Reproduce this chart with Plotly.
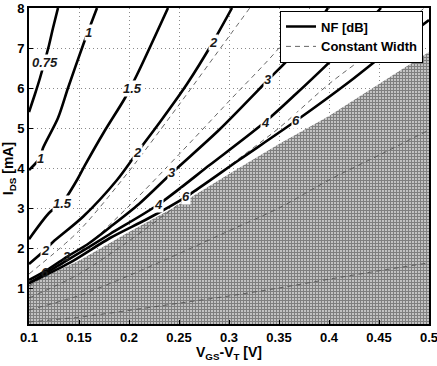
import plotly.graph_objects as go

# ---------------- axes ----------------
x_ticks = [0.1, 0.15, 0.2, 0.25, 0.3, 0.35, 0.4, 0.45, 0.5]
x_tick_labels = ["0.1", "0.15", "0.2", "0.25", "0.3", "0.35", "0.4", "0.45", "0.5"]
y_ticks = [1, 2, 3, 4, 5, 6, 7, 8]
y_tick_labels = ["1", "2", "3", "4", "5", "6", "7", "8"]

# ---------------- NF contours (V_GS-V_T [V], I_DS [mA]) ----------------
nf_075_v = [0.100, 0.106, 0.111, 0.120, 0.124, 0.129]
nf_075_i = [5.40, 5.85, 6.25, 7.07, 7.50, 8.00]
nf_1_v = [0.100, 0.111, 0.114, 0.129, 0.139, 0.154, 0.168]
nf_1_i = [3.95, 4.25, 4.50, 5.25, 6.00, 7.07, 8.00]
nf_15_v = [0.100, 0.121, 0.133, 0.148, 0.156, 0.175, 0.196, 0.208, 0.239]
nf_15_i = [2.22, 2.90, 3.12, 3.70, 4.07, 4.90, 5.75, 6.33, 8.00]
nf_2_v = [0.100, 0.116, 0.124, 0.154, 0.188, 0.208, 0.231, 0.258, 0.284, 0.303]
nf_2_i = [1.60, 1.95, 2.15, 2.78, 3.70, 4.38, 5.15, 6.10, 7.15, 8.00]
nf_3_v = [0.100, 0.120, 0.138, 0.160, 0.181, 0.210, 0.243, 0.290, 0.339, 0.371, 0.399]
nf_3_i = [1.20, 1.48, 1.78, 2.12, 2.52, 3.10, 3.88, 4.95, 6.20, 7.03, 8.00]
nf_4_v = [0.100, 0.140, 0.181, 0.229, 0.281, 0.336, 0.366, 0.416, 0.452]
nf_4_i = [1.12, 1.72, 2.35, 3.08, 4.08, 5.15, 5.83, 7.03, 8.00]
nf_6_v = [0.100, 0.140, 0.181, 0.220, 0.257, 0.310, 0.367, 0.420, 0.463, 0.500]
nf_6_i = [1.12, 1.62, 2.25, 2.75, 3.28, 4.20, 5.18, 6.15, 7.00, 7.70]

nf_lines = [(nf_075_v, nf_075_i), (nf_1_v, nf_1_i), (nf_15_v, nf_15_i),
            (nf_2_v, nf_2_i), (nf_3_v, nf_3_i), (nf_4_v, nf_4_i), (nf_6_v, nf_6_i)]

# contour labels
lbl_text = ["0.75", "1", "1", "1.5", "1.5", "2", "2", "2", "3", "3", "3", "4", "4", "6", "6", "6"]
lbl_v = [0.116, 0.159, 0.111, 0.203, 0.133, 0.284, 0.208, 0.116, 0.339, 0.243, 0.138,
         0.336, 0.229, 0.367, 0.257, 0.116]
lbl_i = [6.65, 7.38, 4.23, 6.00, 3.12, 7.15, 4.38, 1.95, 6.22, 3.88, 1.78,
         5.15, 3.08, 5.18, 3.28, 1.38]
lbl_bg = [True, True, True, True, True, True, True, True, True, True, False,
          True, True, True, True, False]

# ---------------- constant width lines ----------------
cw_a_v = [0.10, 0.15, 0.20, 0.25, 0.30, 0.35]
cw_a_i = [1.35, 2.43, 3.92, 5.58, 7.29, 9.00]
cw_b_v = [0.10, 0.15, 0.20, 0.25, 0.30, 0.35, 0.40]
cw_b_i = [1.05, 1.89, 3.05, 4.34, 5.67, 7.00, 8.65]
cw_c_v = [0.10, 0.15, 0.20, 0.25, 0.30, 0.35, 0.40, 0.45, 0.50]
cw_c_i = [0.75, 1.35, 2.18, 3.10, 4.05, 5.00, 6.10, 7.05, 8.10]
cw_d_v = [0.10, 0.15, 0.20, 0.25, 0.30, 0.35, 0.40, 0.45, 0.50]
cw_d_i = [0.45, 0.81, 1.31, 1.86, 2.43, 3.00, 3.70, 4.32, 4.95]
cw_e_v = [0.10, 0.15, 0.20, 0.25, 0.30, 0.35, 0.40, 0.45, 0.50]
cw_e_i = [0.15, 0.27, 0.44, 0.62, 0.80, 1.00, 1.22, 1.43, 1.63]
cw_lines = [(cw_a_v, cw_a_i), (cw_b_v, cw_b_i), (cw_c_v, cw_c_i),
            (cw_d_v, cw_d_i), (cw_e_v, cw_e_i)]

# ---------------- hatched (excluded) region upper boundary ----------------
hatch_v = [0.100, 0.150, 0.200, 0.250, 0.300, 0.350, 0.400, 0.450, 0.500]
hatch_i = [1.10, 1.68, 2.40, 3.08, 3.85, 4.60, 5.30, 6.10, 6.90]

FONT = "Liberation Sans, Arial, Helvetica, sans-serif"

fig = go.Figure()

fig.add_trace(go.Scatter(
    x=hatch_v + [0.5, 0.1], y=hatch_i + [0.0, 0.0],
    mode="lines", fill="toself", line=dict(width=0, color="black"),
    fillcolor="white",
    fillpattern=dict(shape="+", size=3, solidity=0.78, fgcolor="black", bgcolor="white"),
    showlegend=False, hoverinfo="skip"))

for k, (v, i) in enumerate(cw_lines):
    fig.add_trace(go.Scatter(
        x=v, y=i, mode="lines",
        line=dict(color="#555555", width=0.9, dash="5px,4px", shape="spline", smoothing=0.8),
        name="Constant Width", legendgroup="cw", legendrank=2,
        showlegend=(k == 0), hoverinfo="skip"))

for k, (v, i) in enumerate(nf_lines):
    fig.add_trace(go.Scatter(
        x=v, y=i, mode="lines",
        line=dict(color="black", width=2.6, shape="spline", smoothing=0.8),
        name="NF [dB]", legendgroup="nf", legendrank=1,
        showlegend=(k == 0), hoverinfo="skip"))

for t, v, i, bg in zip(lbl_text, lbl_v, lbl_i, lbl_bg):
    fig.add_annotation(
        x=v, y=i, text=t, showarrow=False,
        font=dict(family=FONT, size=13, color="#1a1a1a", weight="bold", style="italic"),
        bgcolor="white" if bg else "rgba(0,0,0,0)", borderpad=0)

# axis titles
fig.add_annotation(xref="paper", yref="paper", x=0.5, y=-0.093, yanchor="middle",
                   text="<b>V<sub>GS</sub>-V<sub>T</sub> [V]</b>", showarrow=False,
                   font=dict(family=FONT, size=14, color="black"))
fig.add_annotation(xref="paper", yref="paper", x=-0.05, y=0.49, xanchor="center",
                   text="<b>I<sub>DS</sub> [mA]</b>", showarrow=False, textangle=-90,
                   font=dict(family=FONT, size=14, color="black"))

axis_common = dict(showgrid=True, griddash="1px,3px", gridcolor="#8a8a8a", gridwidth=1,
                   showline=True, linecolor="black", linewidth=2, mirror=True,
                   ticks="inside", ticklen=4, tickcolor="black", zeroline=False,
                   automargin=False, ticklabeloverflow="allow",
                   tickfont=dict(family=FONT, size=13, color="black", weight="bold"))

fig.update_layout(
    width=437, height=366,
    margin=dict(l=29, r=8, t=8, b=42),
    paper_bgcolor="white", plot_bgcolor="white",
    xaxis=dict(range=[0.1, 0.5], tickvals=x_ticks, ticktext=x_tick_labels, **axis_common),
    yaxis=dict(range=[0.1, 8], tickvals=y_ticks, ticktext=y_tick_labels, **axis_common),
    legend=dict(x=0.985, y=0.992, xanchor="right", yanchor="top",
                bgcolor="white", bordercolor="black", borderwidth=1,
                font=dict(family=FONT, size=13, color="black", weight="bold"),
                tracegroupgap=0, itemwidth=30),
    showlegend=True,
)

fig.write_html("out.html", config={"displayModeBar": False},
               post_script="document.body.style.margin='0';")
